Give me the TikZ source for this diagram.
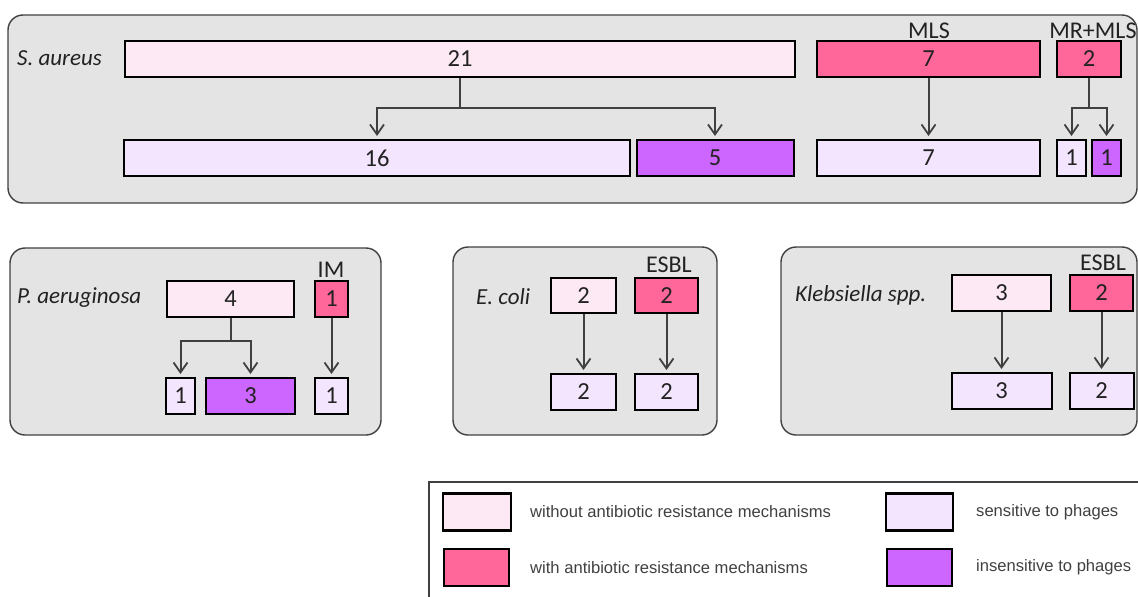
\documentclass[tikz,border=0pt]{standalone}
\usepackage{fontspec}
\setmainfont{Carlito}
\newfontfamily\legfont{Liberation Sans}
\usetikzlibrary{arrows.meta}
\definecolor{lp}{HTML}{FDE9F3}
\definecolor{pk}{HTML}{FF6699}
\definecolor{sp}{HTML}{F3E5FE}
\definecolor{ip}{HTML}{CC66FF}
\definecolor{panel}{HTML}{E4E4E4}
\definecolor{edge}{HTML}{404040}
\definecolor{txt}{HTML}{222222}
\begin{document}
\begin{tikzpicture}[x=1pt,y=-1pt,
 bx/.style={draw=black, line width=2pt, fill=#1, minimum height=36pt, inner sep=0pt, font=\fontsize{24.5}{24.5}\selectfont, text=txt},
 pnl/.style={draw=edge, line width=1.4pt, fill=panel, rounded corners=15pt},
 lab/.style={font=\fontsize{24}{24}\selectfont, text=txt, inner sep=0pt},
 spc/.style={font=\fontsize{23}{23}\selectfont\itshape, text=txt, inner sep=0pt, anchor=west},
 arr/.style={draw=edge, line width=2pt, -{Straight Barb[length=10pt,width=14pt,line width=1.8pt]}, shorten >=3pt},
 leg/.style={font=\legfont\fontsize{16.6}{16.6}\selectfont, text=edge, anchor=west, inner sep=0pt},
 sw/.style={draw=black, line width=2.2pt, fill=#1, minimum height=37pt, inner sep=0pt}]
\useasboundingbox (0,0) rectangle (1138,597);
\clip (0,0) rectangle (1138,597);

% ---------- S. aureus ----------
\draw[pnl] (8,15) rectangle (1137,203);
\node[spc] (saur) at (17,58) {S. aureus};
\node[bx=lp, minimum width=670pt] (s21) at (460,59) {21};
\node[bx=pk, minimum width=223pt] (sMLS) at (928.5,59) {7};
\node[bx=pk, minimum width=64pt] (sMR) at (1089,59) {2};
\node[lab] (lMLS) at (929,31) {MLS};
\node[lab] (lMR) at (1093,31) {MR+MLS};
\node[bx=sp, minimum width=506pt] (s16) at (377,158) {16};
\node[bx=ip, minimum width=157pt] (s5) at (715,158) {5};
\node[bx=sp, minimum width=223pt] (s7) at (928.5,158) {7};
\node[bx=sp, minimum width=29pt] (sMR1) at (1071.5,158) {1};
\node[bx=ip, minimum width=29pt] (sMR2) at (1106.5,158) {1};
\draw[arr] (s21.south) -- ++(0,30) -| (s16.north);
\draw[arr] (s21.south) -- ++(0,30) -| (s5.north);
\draw[arr] (sMLS.south) -- (s7.north);
\draw[arr] (sMR.south) -- ++(0,30) -| (sMR1.north);
\draw[arr] (sMR.south) -- ++(0,30) -| (sMR2.north);

% ---------- P. aeruginosa ----------
\draw[pnl] (10,248) rectangle (381,435);
\node[spc] (paer) at (17,298) {P. aeruginosa};
\node[bx=lp, minimum width=127pt] (p4) at (230.5,299) {4};
\node[bx=pk, minimum width=33pt] (pIM) at (331.5,299) {1};
\node[lab] (lIM) at (331,270) {IM};
\node[bx=sp, minimum width=29pt] (p1) at (180.5,396) {1};
\node[bx=ip, minimum width=89pt] (p3) at (250.5,396) {3};
\node[bx=sp, minimum width=33pt] (p1b) at (331.5,396) {1};
\draw[arr] (p4.south) -- ++(0,23) -| (p1.north);
\draw[arr] (p4.south) -- ++(0,23) -| (p3.north);
\draw[arr] (pIM.south) -- (p1b.north);

% ---------- E. coli ----------
\draw[pnl] (453,247) rectangle (717,435);
\node[spc] (ecol) at (476,297) {E. coli};
\node[bx=lp, minimum width=65pt, minimum height=35pt] (e2) at (583.5,295.5) {2};
\node[bx=pk, minimum width=63pt, minimum height=35pt] (eE) at (666.5,295.5) {2};
\node[lab] (lE) at (669,265) {ESBL};
\node[bx=sp, minimum width=65pt] (e2b) at (583.5,392) {2};
\node[bx=sp, minimum width=63pt] (eEb) at (666.5,392) {2};
\draw[arr] (e2.south) -- (e2b.north);
\draw[arr] (eE.south) -- (eEb.north);

% ---------- Klebsiella ----------
\draw[pnl] (781,247) rectangle (1137,435);
\node[spc] (kleb) at (795,295) {Klebsiella spp.};
\node[bx=lp, minimum width=99pt] (k3) at (1001.5,293) {3};
\node[bx=pk, minimum width=63pt] (kE) at (1101.5,293) {2};
\node[lab] (lK) at (1103,263) {ESBL};
\node[bx=sp, minimum width=100pt] (k3b) at (1001.5,391) {3};
\node[bx=sp, minimum width=64pt] (kEb) at (1101.5,391) {2};
\draw[arr] (k3.south) -- (k3b.north);
\draw[arr] (kE.south) -- (kEb.north);

% ---------- Legend ----------
\draw[draw=edge, line width=1.4pt] (429,482) rectangle (1160,620);
\node[sw=lp, minimum width=68pt] (L1) at (477,512) {};
\node[leg] (T1) at (530,512) {without antibiotic resistance mechanisms};
\node[sw=pk, minimum width=65pt] (L2) at (476.5,567.5) {};
\node[leg] (T2) at (530,568) {with antibiotic resistance mechanisms};
\node[sw=sp, minimum width=67pt] (L3) at (919.5,512) {};
\node[leg] (T3) at (976,512) {sensitive to phages};
\node[sw=ip, minimum width=65pt] (L4) at (919.5,567.5) {};
\node[leg] (T4) at (976,567) {insensitive to phages};
\end{tikzpicture}
\end{document}
